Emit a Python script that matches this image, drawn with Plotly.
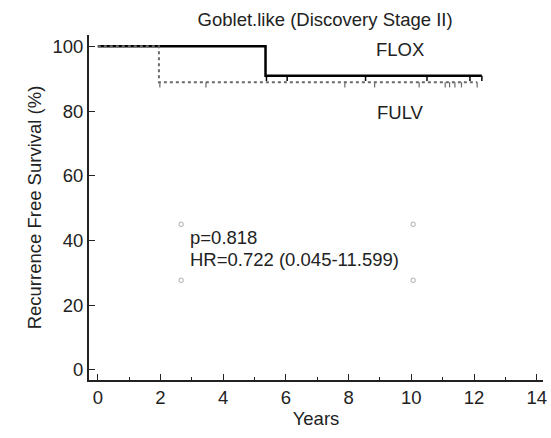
import numpy as np
import plotly.graph_objects as go

# ---- data ----
flox_x = [0, 5.35, 12.25]
flox_y = [100, 90.9, 90.9]
fulv_x = [0, 1.95, 12.1]
fulv_y = [100, 88.9, 88.9]
flox_censor = [5.38, 6.04, 8.54, 10.5, 11.87, 12.25]
fulv_censor = [1.98, 3.45, 7.88, 8.83, 10.25, 11.08, 11.22, 11.39, 11.6, 12.1]
x_ticks = [0, 2, 4, 6, 8, 10, 12, 14]
y_ticks = [0, 20, 40, 60, 80, 100]
title_text = "Goblet.like (Discovery Stage II)"
p_text = "p=0.818"
hr_text = "HR=0.722 (0.045-11.599)"


def step_value(xs, ys, t):
    idx = np.searchsorted(np.array(xs), t, side="right") - 1
    return [ys[i] for i in idx]


fig = go.Figure()

fig.add_trace(go.Scatter(x=flox_x, y=flox_y, mode="lines", line_shape="hv",
                         line=dict(color="black", width=2.5), showlegend=False))
fig.add_trace(go.Scatter(x=flox_censor, y=step_value(flox_x, flox_y, flox_censor),
                         mode="markers", marker=dict(size=1, color="black", opacity=0),
                         error_y=dict(type="constant", symmetric=False, value=0, valueminus=1.6,
                                      width=0, thickness=1.5, color="black"),
                         showlegend=False))
fig.add_trace(go.Scatter(x=fulv_x, y=fulv_y, mode="lines", line_shape="hv",
                         line=dict(color="#6a6a6a", width=2, dash="dot"), showlegend=False))
fig.add_trace(go.Scatter(x=fulv_censor, y=step_value(fulv_x, fulv_y, fulv_censor),
                         mode="markers", marker=dict(size=1, color="#6a6a6a", opacity=0),
                         error_y=dict(type="constant", symmetric=False, value=0, valueminus=1.6,
                                      width=0, thickness=1.2, color="#6a6a6a"),
                         showlegend=False))

font_family = "Liberation Sans, Arial, sans-serif"
FS = 18.5
FS_STAT = 18.5

fig.update_layout(
    width=551, height=438,
    margin=dict(l=89, r=4, t=35, b=58),
    paper_bgcolor="white", plot_bgcolor="white",
    font=dict(family=font_family, color="#222", size=FS),
    title=dict(text=title_text, x=0.59, xanchor="center", y=0.955, yanchor="middle",
               font=dict(size=FS)),
    shapes=[
        dict(type="circle", xref="x", yref="y", x0=px - 0.07, x1=px + 0.07,
             y0=py - 0.7, y1=py + 0.7, line=dict(color="#aaa", width=1))
        for px in (2.66, 10.06) for py in (45, 27.7)
    ],
)

fig.add_annotation(x=9.65, y=99, xref="x", yref="y", text="FLOX", showarrow=False,
                   font=dict(size=FS), xanchor="center", yanchor="middle")
fig.add_annotation(x=9.65, y=79.5, xref="x", yref="y", text="FULV", showarrow=False,
                   font=dict(size=FS), xanchor="center", yanchor="middle")
fig.add_annotation(x=2.88, y=41.0, xref="x", yref="y", text=p_text, showarrow=False,
                   xanchor="left", yanchor="middle", font=dict(size=FS_STAT))
fig.add_annotation(x=2.88, y=34.2, xref="x", yref="y", text=hr_text, showarrow=False,
                   xanchor="left", yanchor="middle", font=dict(size=FS_STAT))

fig.update_xaxes(range=[-0.28, 14.2], tickvals=x_ticks, ticks="inside", ticklen=6,
                 tickwidth=1.3, tickcolor="#222", showline=True, linecolor="#222",
                 linewidth=2, showgrid=False, zeroline=False,
                 minor=dict(ticks="inside", dtick=1, tick0=0, ticklen=3, tickcolor="#222"),
                 title=dict(text="Years", font=dict(size=FS), standoff=5),
                 tickfont=dict(size=FS))
fig.update_yaxes(range=[-3.1, 103.5], tickvals=y_ticks, ticks="inside", ticklen=6,
                 tickwidth=1.3, tickcolor="#222", showline=True, linecolor="#222",
                 linewidth=2, showgrid=False, zeroline=False,
                 title=dict(text="Recurrence Free Survival (%)", font=dict(size=FS), standoff=6),
                 tickfont=dict(size=FS))

fig.write_html("out.html")
